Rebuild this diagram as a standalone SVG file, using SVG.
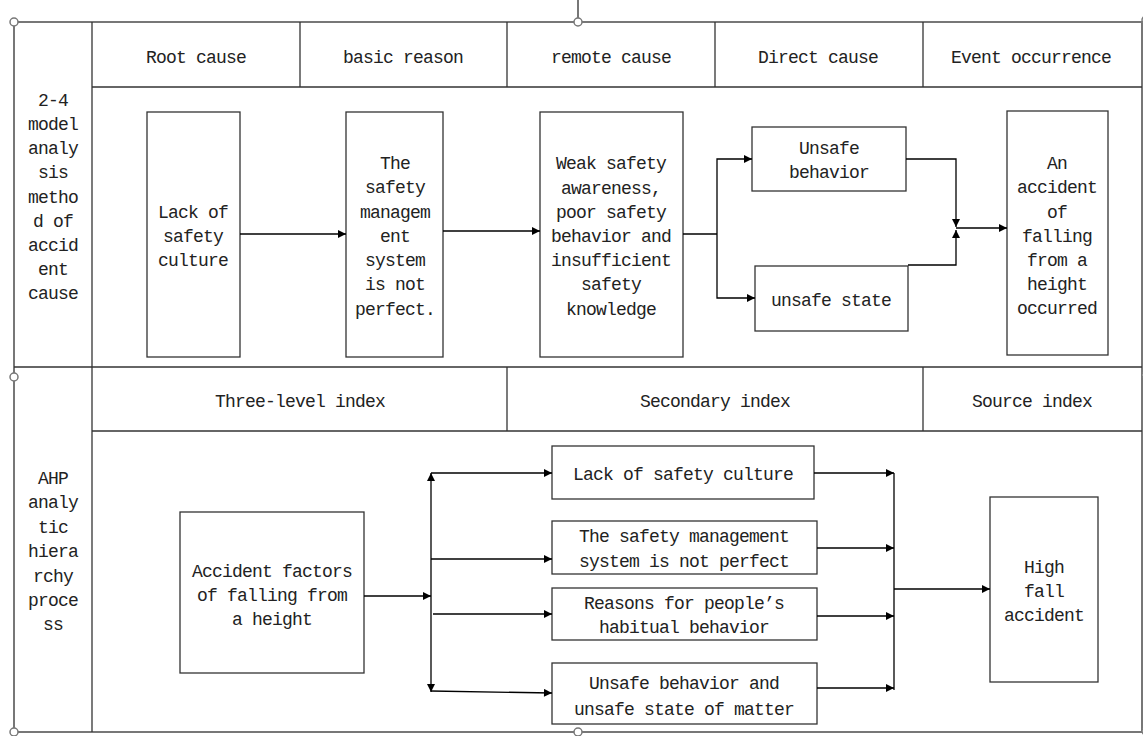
<svg xmlns="http://www.w3.org/2000/svg" width="1143" height="736" viewBox="0 0 1143 736">
<defs>
<marker id="ah" viewBox="0 0 10 10" refX="10" refY="5" markerWidth="9" markerHeight="8" markerUnits="userSpaceOnUse" orient="auto"><path d="M0,0 L10,5 L0,10 z" fill="#000"/></marker>
</defs>
<style>
text{font-family:"Liberation Mono","DejaVu Sans Mono",monospace;font-size:18px;letter-spacing:-0.8px;fill:#222;text-anchor:middle}
.frame{fill:none;stroke:#777;stroke-width:2}
.grid{fill:none;stroke:#333;stroke-width:1.3}
.node{fill:#fff;stroke:#333;stroke-width:1.3}
.con{fill:none;stroke:#000;stroke-width:1.3}
.arr{marker-end:url(#ah)}
.handle{fill:#fff;stroke:#777;stroke-width:1.5}
</style>
<rect width="1143" height="736" fill="#fff"/>
<g id="frame">
<line class="frame" x1="578" y1="0" x2="578" y2="18" stroke-width="1"/>
<rect class="frame" x="14" y="22" width="1128" height="710"/>
<line class="grid" x1="92" y1="22" x2="92" y2="732"/>
<line class="grid" x1="92" y1="87" x2="1142" y2="87"/>
<line class="grid" x1="14" y1="367" x2="1142" y2="367"/>
<line class="grid" x1="92" y1="431" x2="1142" y2="431"/>
<line class="grid" x1="300" y1="22" x2="300" y2="87"/>
<line class="grid" x1="507" y1="22" x2="507" y2="87"/>
<line class="grid" x1="715" y1="22" x2="715" y2="87"/>
<line class="grid" x1="923" y1="22" x2="923" y2="87"/>
<line class="grid" x1="507" y1="367" x2="507" y2="431"/>
<line class="grid" x1="923" y1="367" x2="923" y2="431"/>
<circle class="handle" cx="14" cy="22" r="4"/>
<circle class="handle" cx="578" cy="22" r="4"/>
<circle class="handle" cx="1146" cy="20" r="4"/>
<circle class="handle" cx="14" cy="377" r="4"/>
<circle class="handle" cx="1146" cy="375" r="4"/>
<circle class="handle" cx="14" cy="732" r="4"/>
<circle class="handle" cx="578" cy="732" r="4"/>
<circle class="handle" cx="1146" cy="731" r="4"/>
</g>
<g id="headers">
<text x="196" y="63">Root cause</text>
<text x="403" y="63">basic reason</text>
<text x="611" y="63">remote cause</text>
<text x="818" y="63">Direct cause</text>
<text x="1031" y="63">Event occurrence</text>
<text x="300" y="407">Three-level index</text>
<text x="715" y="407">Secondary index</text>
<text x="1032" y="407">Source index</text>
</g>
<g id="label-top">
<text x="53" y="106">2-4</text>
<text x="53" y="130">model</text>
<text x="53" y="154">analy</text>
<text x="53" y="178">sis</text>
<text x="53" y="203">metho</text>
<text x="53" y="227">d of</text>
<text x="53" y="251">accid</text>
<text x="53" y="275">ent</text>
<text x="53" y="299">cause</text>
</g>
<g id="label-bottom">
<text x="53" y="484">AHP</text>
<text x="53" y="508">analy</text>
<text x="53" y="533">tic</text>
<text x="53" y="557">hiera</text>
<text x="53" y="582">rchy</text>
<text x="53" y="606">proce</text>
<text x="53" y="630">ss</text>
</g>
<g id="n-lack-culture">
<rect class="node" x="147" y="112" width="93" height="245"/>
<text x="193" y="218">Lack of</text>
<text x="193" y="242">safety</text>
<text x="193" y="266">culture</text>
</g>
<g id="n-mgmt">
<rect class="node" x="346" y="112" width="97" height="245"/>
<text x="395" y="169">The</text>
<text x="395" y="193">safety</text>
<text x="395" y="218">managem</text>
<text x="395" y="242">ent</text>
<text x="395" y="266">system</text>
<text x="395" y="290">is not</text>
<text x="395" y="315">perfect.</text>
</g>
<g id="n-weak">
<rect class="node" x="540" y="112" width="143" height="245"/>
<text x="611" y="169">Weak safety</text>
<text x="611" y="194">awareness,</text>
<text x="611" y="218">poor safety</text>
<text x="611" y="242">behavior and</text>
<text x="611" y="266">insufficient</text>
<text x="611" y="290">safety</text>
<text x="611" y="315">knowledge</text>
</g>
<g id="n-unsafe-behavior">
<rect class="node" x="752" y="127" width="154" height="64"/>
<text x="829" y="154">Unsafe</text>
<text x="829" y="178">behavior</text>
</g>
<g id="n-unsafe-state">
<rect class="node" x="755" y="266" width="153" height="65"/>
<text x="831" y="306">unsafe state</text>
</g>
<g id="n-accident">
<rect class="node" x="1007" y="111" width="101" height="244"/>
<text x="1057" y="169">An</text>
<text x="1057" y="193">accident</text>
<text x="1057" y="218">of</text>
<text x="1057" y="242">falling</text>
<text x="1057" y="266">from a</text>
<text x="1057" y="290">height</text>
<text x="1057" y="314">occurred</text>
</g>
<g id="n-factors">
<rect class="node" x="180" y="512" width="184" height="161"/>
<text x="272" y="577">Accident factors</text>
<text x="272" y="601">of falling from</text>
<text x="272" y="625">a height</text>
</g>
<g id="n-b-culture">
<rect class="node" x="552" y="446" width="262" height="53"/>
<text x="683" y="480">Lack of safety culture</text>
</g>
<g id="n-b-mgmt">
<rect class="node" x="552" y="521" width="265" height="53"/>
<text x="684" y="542">The safety management</text>
<text x="684" y="567">system is not perfect</text>
</g>
<g id="n-b-habit">
<rect class="node" x="552" y="588" width="265" height="52"/>
<text x="684" y="609">Reasons for people’s</text>
<text x="684" y="633">habitual behavior</text>
</g>
<g id="n-b-unsafe">
<rect class="node" x="552" y="663" width="265" height="61"/>
<text x="684" y="689">Unsafe behavior and</text>
<text x="684" y="715">unsafe state of matter</text>
</g>
<g id="n-high-fall">
<rect class="node" x="990" y="497" width="108" height="185"/>
<text x="1044" y="573">High</text>
<text x="1044" y="597">fall</text>
<text x="1044" y="621">accident</text>
</g>
<g id="connectors">
<line class="con arr" x1="240" y1="234" x2="346" y2="234"/>
<line class="con arr" x1="443" y1="231" x2="540" y2="231"/>
<line class="con" x1="683" y1="234" x2="717" y2="234"/>
<polyline class="con arr" points="717,234 717,159 752,159"/>
<polyline class="con arr" points="717,234 717,298 755,298"/>
<polyline class="con arr" points="906,159 956,159 956,227"/>
<polyline class="con arr" points="908,265 956,265 956,230"/>
<line class="con arr" x1="956" y1="228" x2="1007" y2="228"/>
<line class="con arr" x1="364" y1="596" x2="431" y2="596"/>
<line class="con arr" x1="431" y1="596" x2="431" y2="473"/>
<line class="con arr" x1="431" y1="596" x2="431" y2="692"/>
<line class="con arr" x1="431" y1="473" x2="552" y2="473"/>
<line class="con arr" x1="431" y1="559" x2="552" y2="559"/>
<line class="con arr" x1="433" y1="614" x2="552" y2="614"/>
<line class="con arr" x1="431" y1="691" x2="552" y2="693"/>
<line class="con arr" x1="814" y1="473" x2="894" y2="473"/>
<line class="con arr" x1="817" y1="548" x2="894" y2="548"/>
<line class="con arr" x1="817" y1="616" x2="894" y2="616"/>
<line class="con arr" x1="817" y1="688" x2="894" y2="688"/>
<line class="con" x1="894" y1="473" x2="894" y2="690"/>
<line class="con arr" x1="894" y1="589" x2="990" y2="589"/>
</g>
</svg>
